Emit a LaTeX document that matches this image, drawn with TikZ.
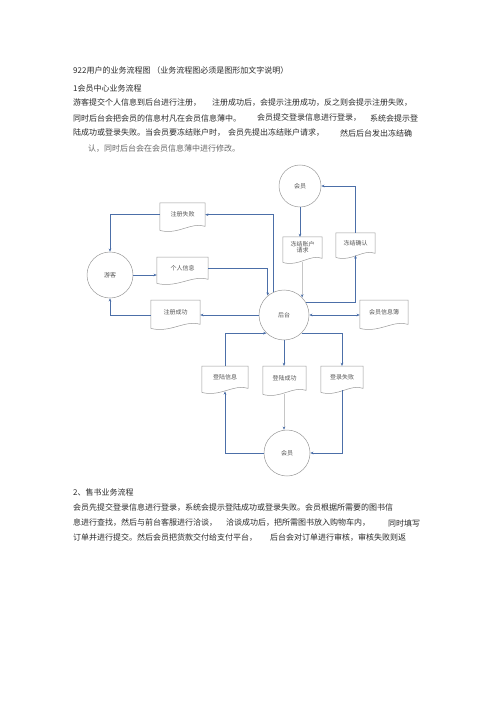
\documentclass[tikz,border=0pt]{standalone}
\usepackage{fontspec}
\newfontfamily\cjk{Noto Sans CJK SC}
\usetikzlibrary{calc,arrows.meta}
\definecolor{linec}{HTML}{4C6FA8}
\definecolor{outl}{HTML}{9A9A9A}
\definecolor{txt}{HTML}{2A2A2A}
\definecolor{dtxt}{HTML}{555555}
\tikzset{
  body/.style={anchor=west,inner sep=0pt,font=\cjk\fontsize{8}{9}\selectfont,text=txt},
  circ/.style={circle,draw=outl,line width=0.5pt,inner sep=0pt,font=\cjk\fontsize{6}{7}\selectfont,text=dtxt},
  doclabel/.style={draw=none,inner sep=0pt,anchor=north,align=center,font=\cjk\fontsize{6}{7}\selectfont,text=dtxt},
  docline/.style={draw=outl,line width=0.5pt},
  flow/.style={draw=linec,line width=0.7pt,-{Stealth[length=3.2pt,width=2.6pt]}},
  faintflow/.style={draw=gray!45,line width=0.6pt,-{Stealth[length=3.2pt,width=2.6pt,color=linec]}},
}
\newcommand\docbox[6]{%
  \node[doclabel,minimum width=#4,minimum height=#5] (#1) at (#2,#3) {#6};
  \draw[docline] ($(#1.south west)+(0,4)$) -- (#1.north west) -- (#1.north east) -- (#1.south east)
     .. controls ($(#1.south east)+(-0.3*#4,-5)$) and ($(#1.south west)+(0.4*#4,9)$) .. ($(#1.south west)+(0,4)$) -- cycle;
}
\begin{document}
\begin{tikzpicture}[x=1pt,y=-1pt]
\fill[white] (0,0) rectangle (500,708);
\useasboundingbox (0,0) rectangle (500,708);

% ---- section 1 text
\node[body] (t1) at (73,70) {922用户的业务流程图 （业务流程图必须是图形加文字说明）};
\node[body] (t2) at (73,88) {1会员中心业务流程};
\node[body] (t3a) at (73,103) {游客提交个人信息到后台进行注册，};
\node[body] (t3b) at (212,103) {注册成功后，会提示注册成功，反之则会提示注册失败，};
\node[body] (t4a) at (73,118) {同时后台会把会员的信息村凡在会员信息薄中。};
\node[body] (t4b) at (257,118) {会员提交登录信息进行登录，};
\node[body] (t4c) at (370,118) {系统会提示登};
\node[body] (t5a) at (73,133) {陆成功或登录失败。当会员要冻结账户时，};
\node[body] (t5b) at (228,133) {会员先提出冻结账户请求，};
\node[body] (t5c) at (340,133) {然后后台发出冻结确};
\node[body,text=gray!80!black] (t6) at (88,149) {认，同时后台会在会员信息薄中进行修改。};

% ---- section 2 text
\node[body] (s1) at (73,492) {2、售书业务流程};
\node[body] (s2) at (73,508) {会员先提交登录信息进行登录，系统会提示登陆成功或登录失败。会员根据所需要的图书信};
\node[body] (s3a) at (73,523) {息进行查找，然后与前台客服进行洽谈，};
\node[body] (s3b) at (226,523) {洽谈成功后，把所需图书放入购物车内，};
\node[body] (s3c) at (388,523) {同时填写};
\node[body] (s4a) at (73,538) {订单并进行提交。然后会员把货款交付给支付平台，};
\node[body] (s4b) at (270,538) {后台会对订单进行审核，审核失败则返};

% ---- circles
\node[circ,minimum size=42pt] (mt) at (300,186) {会员};
\node[circ,minimum size=46pt] (yk) at (110,275) {游客};
\node[circ,minimum size=50pt] (ht) at (284,315) {后台};
\node[circ,minimum size=46pt] (mb) at (287,453) {会员};

% ---- documents
\docbox{zcsb}{182.5}{203}{45}{23}{注册失败}
\docbox{djqq}{302.5}{237}{39}{21}{冻结账户\\[-1pt]请求}
\docbox{djqr}{355.5}{233}{39}{20}{冻结确认}
\docbox{grxx}{182.5}{257}{51}{22}{个人信息}
\docbox{zccg}{175.5}{300}{49}{24}{注册成功}
\docbox{hyxxb}{384}{300}{48}{24}{会员信息簿}
\docbox{dlxx}{225}{366}{46}{22}{登陆信息}
\docbox{dlcg}{284.5}{366}{43}{24}{登陆成功}
\docbox{dlsb}{342}{366}{42}{22}{登录失败}

% ---- connectors
\draw[flow] (ht.116) |- (zcsb.east);
\draw[flow] (zcsb.west) -| (yk.north);
\draw[flow] (yk.east) -- (yk.east -| grxx.west);
\draw[flow] (grxx.east) -| (ht.130);
\draw[flow] (ht.west) -- (ht.west -| zccg.east);
\draw[flow] (ht.west -| zccg.west) -| (yk.south);
\draw[flow] (mt.south) -- (mt.south |- djqq.north);
\draw[faintflow] ($(ht.44 |- djqq.south)+(0,4)$) -- (ht.44);
\draw[flow] (ht.31) -| ($(djqr.south)+(0,2)$);
\draw[flow] (djqr.north) |- (mt.east);
\draw[flow,{Stealth[length=3.2pt,width=2.6pt]}-{Stealth[length=3.2pt,width=2.6pt]}] (ht.east) -- (ht.east -| hyxxb.west);
\draw[flow] (dlxx.north) |- (ht.226);
\draw[flow] (mb.west) -| ($(dlxx.south)+(0,3)$);
\draw[flow] (ht.south) -- (ht.south |- dlcg.north);
\draw[faintflow] ($(ht.south |- dlcg.south)+(0,4)$) -- (ht.south |- mb.north);
\draw[flow] (ht.-46) -| (dlsb.north);
\draw[flow] ($(dlsb.south)+(0,2)$) |- (mb.east);
\end{tikzpicture}
\end{document}
